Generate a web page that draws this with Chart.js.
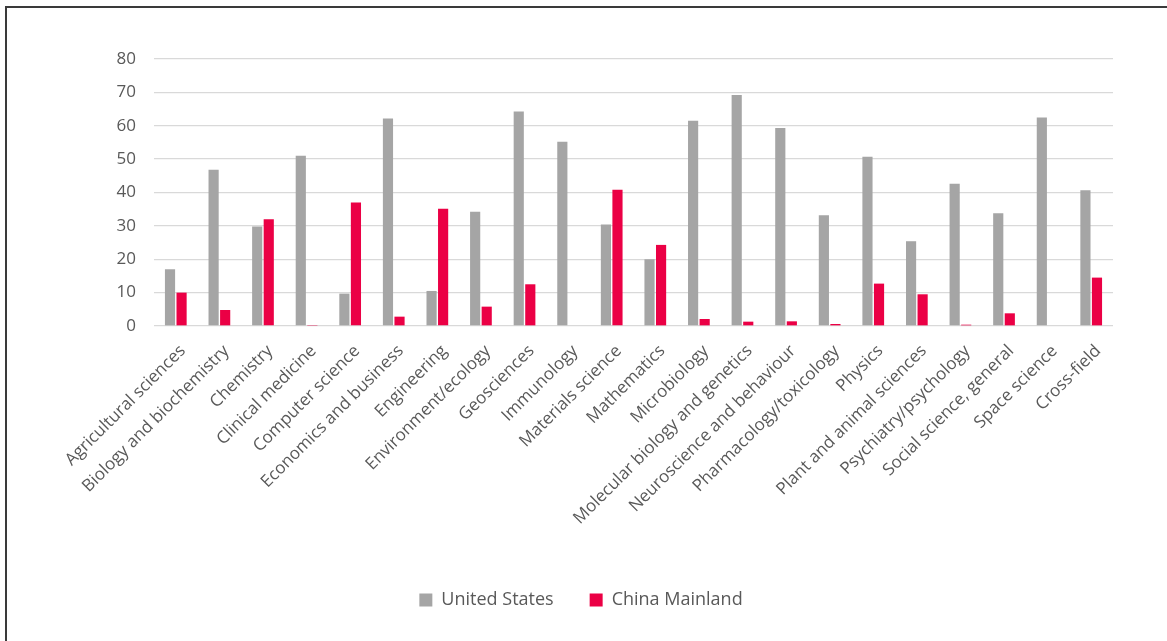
<!DOCTYPE html>
<html>
<head>
<meta charset="utf-8">
<script src="https://cdn.jsdelivr.net/npm/chart.js@4"></script>
<style>
  html, body { margin: 0; padding: 0; background: #fff; }
  #frame {
    position: absolute; left: 5px; top: 6px; width: 1162px; height: 635px;
    border-left: 2px solid #3a3a3a; border-top: 2px solid #3a3a3a;
  }
  #wrap { position: absolute; left: 0; top: 0; width: 1160px; height: 633px; }
</style>
</head>
<body>
<div id="frame"><div id="wrap"><canvas id="chart"></canvas></div></div>
<script>
/* --------------- Data --------------------- */
const fields = [
  "Agricultural sciences", "Biology and biochemistry", "Chemistry", "Clinical medicine",
  "Computer science", "Economics and business", "Engineering", "Environment/ecology",
  "Geosciences", "Immunology", "Materials science", "Mathematics", "Microbiology",
  "Molecular biology and genetics", "Neuroscience and behaviour", "Pharmacology/toxicology",
  "Physics", "Plant and animal sciences", "Psychiatry/psychology", "Social science, general",
  "Space science", "Cross-field"
];
const unitedStates = [17, 46.8, 29.8, 51, 9.7, 62.2, 10.5, 34.2, 64.3, 55.2, 30.4, 20,
  61.5, 69.2, 59.3, 33.2, 50.7, 25.4, 42.6, 33.8, 62.5, 40.7];
const chinaMainland = [10, 4.8, 32, 0.3, 37, 2.8, 35.1, 5.8, 12.5, 0, 40.8, 24.3,
  2.1, 1.3, 1.4, 0.6, 12.7, 9.5, 0.4, 3.8, 0, 14.5];
const yTicks = [0, 10, 20, 30, 40, 50, 60, 70, 80];

/* --------------- Chart --------------------- */
const fontFamily = "'Open Sans', sans-serif";
const textColor = "#595959";

new Chart(document.getElementById("chart"), {
  type: "bar",
  data: {
    labels: fields,
    datasets: [
      { label: "United States", data: unitedStates, backgroundColor: "#A5A5A5" },
      { label: "China Mainland", data: chinaMainland, backgroundColor: "#EB0045" },
    ],
  },
  options: {
    responsive: true,
    maintainAspectRatio: false,
    animation: false,
    categoryPercentage: 0.53,
    barPercentage: 0.88,
    layout: { padding: { top: 51, right: 12, bottom: 22, left: 0 } },
    plugins: {
      tooltip: { enabled: false },
      legend: {
        position: "bottom",
        labels: {
          color: textColor,
          font: { family: fontFamily, size: 18 },
          boxWidth: 13,
          boxHeight: 13,
          padding: 36,
        },
      },
    },
    scales: {
      x: {
        grid: { display: false },
        border: { display: false },
        ticks: {
          color: textColor,
          font: { family: fontFamily, size: 17 },
          minRotation: 45,
          maxRotation: 45,
          autoSkip: false,
          padding: 7,
          labelOffset: 7,
        },
        afterFit: (scale) => { scale.height = 229; },
      },
      y: {
        min: 0,
        max: 80,
        afterBuildTicks: (scale) => { scale.ticks = yTicks.map((v) => ({ value: v })); },
        grid: { color: "#D9D9D9", lineWidth: 1.3, drawTicks: false },
        border: { display: false },
        ticks: {
          color: textColor,
          font: { family: fontFamily, size: 17 },
          padding: 18,
        },
        afterFit: (scale) => { scale.width = 147; },
      },
      // empty right margin so the legend centres like the original
      spacer: {
        position: "right",
        grid: { display: false },
        border: { display: false },
        ticks: { display: false },
        afterFit: (scale) => { scale.width = 42; },
      },
    },
  },
});
</script>
</body>
</html>
